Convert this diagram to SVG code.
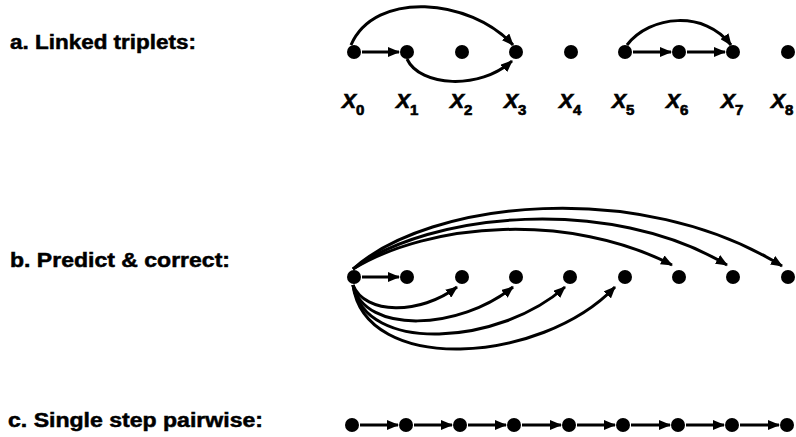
<svg xmlns="http://www.w3.org/2000/svg" width="796" height="437" viewBox="0 0 796 437">
<defs>
<marker id="ah" markerUnits="userSpaceOnUse" markerWidth="12" markerHeight="10" refX="11" refY="5" orient="auto" viewBox="0 0 12 10">
<path d="M0,0 L12,5 L0,10 Z" fill="#000"/>
</marker>
<style>
.lbl{font-family:"Liberation Sans",Arial,sans-serif;font-weight:bold;font-size:20px;fill:#000;stroke:#000;stroke-width:0.5}
.x{font-family:"Liberation Sans",Arial,sans-serif;font-weight:bold;font-style:italic;font-size:21px;fill:#000;stroke:#000;stroke-width:0.7}
.sub{font-size:15px;font-style:normal}
.dot{fill:#000}
.c{fill:none;stroke:#000;stroke-width:3;marker-end:url(#ah)}
</style>
</defs>
<rect width="796" height="437" fill="#fff"/>
<g id="labels">
<text class="lbl" x="10" y="49" textLength="186" lengthAdjust="spacingAndGlyphs">a. Linked triplets:</text>
<text class="lbl" x="10" y="267" textLength="220" lengthAdjust="spacingAndGlyphs">b. Predict &amp; correct:</text>
<text class="lbl" x="8" y="427" textLength="255" lengthAdjust="spacingAndGlyphs">c. Single step pairwise:</text>
</g>
<g id="xlabels">
<text class="x" x="342" y="108">X<tspan class="sub" dy="7">0</tspan></text>
<text class="x" x="396" y="108">X<tspan class="sub" dy="7">1</tspan></text>
<text class="x" x="450" y="108">X<tspan class="sub" dy="7">2</tspan></text>
<text class="x" x="504" y="108">X<tspan class="sub" dy="7">3</tspan></text>
<text class="x" x="559" y="108">X<tspan class="sub" dy="7">4</tspan></text>
<text class="x" x="612" y="108">X<tspan class="sub" dy="7">5</tspan></text>
<text class="x" x="666" y="108">X<tspan class="sub" dy="7">6</tspan></text>
<text class="x" x="721" y="108">X<tspan class="sub" dy="7">7</tspan></text>
<text class="x" x="771" y="108">X<tspan class="sub" dy="7">8</tspan></text>
</g>
<g id="row-a">
<circle id="a0" class="dot" cx="354" cy="52" r="7"/>
<circle id="a1" class="dot" cx="407" cy="52" r="7"/>
<circle id="a2" class="dot" cx="462" cy="52" r="7"/>
<circle id="a3" class="dot" cx="516" cy="52" r="7"/>
<circle id="a4" class="dot" cx="571" cy="52" r="7"/>
<circle id="a5" class="dot" cx="625" cy="52" r="7"/>
<circle id="a6" class="dot" cx="679" cy="52" r="7"/>
<circle id="a7" class="dot" cx="733" cy="52" r="7"/>
<circle id="a8" class="dot" cx="788" cy="52" r="7"/>
</g>
<g id="row-b">
<circle id="b0" class="dot" cx="354" cy="277" r="7"/>
<circle id="b1" class="dot" cx="407" cy="277" r="7"/>
<circle id="b2" class="dot" cx="462" cy="277" r="7"/>
<circle id="b3" class="dot" cx="516" cy="277" r="7"/>
<circle id="b4" class="dot" cx="570" cy="277" r="7"/>
<circle id="b5" class="dot" cx="625" cy="277" r="7"/>
<circle id="b6" class="dot" cx="679" cy="277" r="7"/>
<circle id="b7" class="dot" cx="733" cy="277" r="7"/>
<circle id="b8" class="dot" cx="788" cy="277" r="7"/>
</g>
<g id="row-c">
<circle id="c0" class="dot" cx="352" cy="425" r="7"/>
<circle id="c1" class="dot" cx="406" cy="425" r="7"/>
<circle id="c2" class="dot" cx="460" cy="425" r="7"/>
<circle id="c3" class="dot" cx="514" cy="425" r="7"/>
<circle id="c4" class="dot" cx="569" cy="425" r="7"/>
<circle id="c5" class="dot" cx="623" cy="425" r="7"/>
<circle id="c6" class="dot" cx="678" cy="425" r="7"/>
<circle id="c7" class="dot" cx="732" cy="425" r="7"/>
<circle id="c8" class="dot" cx="787" cy="425" r="7"/>
</g>
<g id="connectors">
<path class="c" d="M362,52 L399,52"/>
<path class="c" d="M351,45 C375,-10 470,-2 513,45"/>
<path class="c" d="M407,59 C420,87 480,90 512,61"/>
<path class="c" d="M633,52 L671,52"/>
<path class="c" d="M687,52 L725,52"/>
<path class="c" d="M627,45 C650,15 705,10 731,45"/>

<path class="c" d="M362,277 L399,277"/>
<path class="c" d="M353,269 C430,200 640,178 782,266"/>
<path class="c" d="M353,269 C430,212 610,195 727,265"/>
<path class="c" d="M353,269 C430,222 570,212 672,265"/>
<path class="c" d="M353,285 C365,315 420,315 457,287"/>
<path class="c" d="M353,285 C365,335 460,330 513,287"/>
<path class="c" d="M353,285 C365,355 500,345 565,287"/>
<path class="c" d="M353,285 C365,375 540,365 615,287"/>

<path class="c" d="M360,425 L398,425"/>
<path class="c" d="M414,425 L452,425"/>
<path class="c" d="M468,425 L506,425"/>
<path class="c" d="M522,425 L561,425"/>
<path class="c" d="M577,425 L615,425"/>
<path class="c" d="M631,425 L670,425"/>
<path class="c" d="M686,425 L724,425"/>
<path class="c" d="M740,425 L779,425"/>
</g>
</svg>
